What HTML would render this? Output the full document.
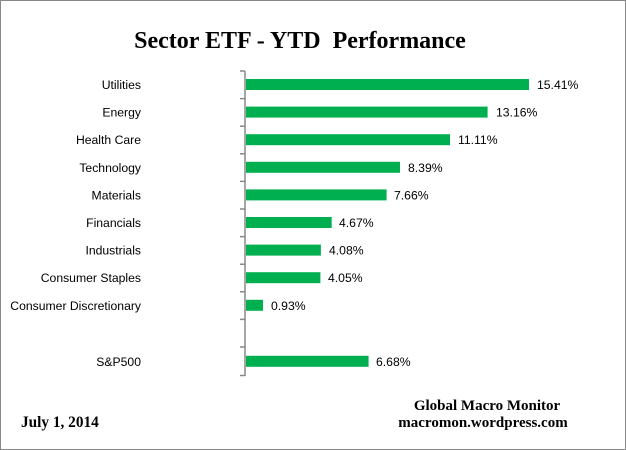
<!DOCTYPE html>
<html><head><meta charset="utf-8"><style>
html,body{margin:0;padding:0;background:#fff}
svg{display:block}
.l{font-family:"Liberation Sans",sans-serif;font-size:12.2px;fill:#000}
.s{font-family:"Liberation Serif",serif;font-weight:bold;fill:#000}
</style></head><body>
<svg width="626" height="450" viewBox="0 0 626 450">
<rect x="0.5" y="0.5" width="625" height="449" fill="#fff" stroke="#888"/>
<text class="s" x="300" y="48" font-size="24" text-anchor="middle" xml:space="preserve">Sector ETF - YTD  Performance</text>
<g fill="#00b050">
<rect x="246" y="79" width="283" height="11"/>
<rect x="246" y="106.6" width="241.6" height="11"/>
<rect x="246" y="134.2" width="204" height="11"/>
<rect x="246" y="161.8" width="154" height="11"/>
<rect x="246" y="189.4" width="140.6" height="11"/>
<rect x="246" y="217" width="85.7" height="11"/>
<rect x="246" y="244.6" width="74.9" height="11"/>
<rect x="246" y="272.2" width="74.4" height="11"/>
<rect x="246" y="299.8" width="17" height="11"/>
<rect x="246" y="355.8" width="122.6" height="11"/>
</g>
<g stroke="#888" stroke-width="1.5" fill="none">
<line x1="245" y1="71" x2="245" y2="376"/>
<path d="M240 71H245M240 98.6H245M240 126.2H245M240 153.8H245M240 181.4H245M240 209H245M240 236.6H245M240 264.2H245M240 291.8H245M240 319.4H245M240 347H245M240 375.5H245"/>
</g>
<g class="l" text-anchor="end">
<text x="141" y="89">Utilities</text>
<text x="141" y="116.6">Energy</text>
<text x="141" y="144.2">Health Care</text>
<text x="141" y="171.8">Technology</text>
<text x="141" y="199.4">Materials</text>
<text x="141" y="227">Financials</text>
<text x="141" y="254.6">Industrials</text>
<text x="141" y="282.2">Consumer Staples</text>
<text x="141" y="309.8">Consumer Discretionary</text>
<text x="141" y="365.8">S&amp;P500</text>
</g>
<g class="l">
<text x="537" y="89">15.41%</text>
<text x="496" y="116.6">13.16%</text>
<text x="458" y="144.2">11.11%</text>
<text x="408" y="171.8">8.39%</text>
<text x="394" y="199.4">7.66%</text>
<text x="339" y="227">4.67%</text>
<text x="329" y="254.6">4.08%</text>
<text x="328" y="282.2">4.05%</text>
<text x="271" y="309.8">0.93%</text>
<text x="376" y="365.8">6.68%</text>
</g>
<text class="s" x="21" y="427" font-size="15.3">July 1, 2014</text>
<text class="s" x="487" y="410" font-size="15" text-anchor="middle">Global Macro Monitor</text>
<text class="s" x="483" y="427" font-size="15" text-anchor="middle">macromon.wordpress.com</text>
</svg>
</body></html>
